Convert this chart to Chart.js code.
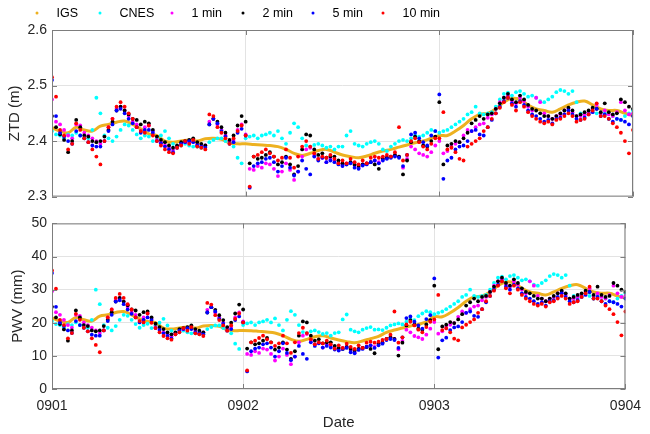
<!DOCTYPE html>
<html>
<head>
<script src="https://cdn.jsdelivr.net/npm/chart.js"></script>
<style>
  html, body { margin: 0; padding: 0; background: #fff; }
  #wrap { position: relative; width: 650px; height: 434px; }
  #ztdChart { position: absolute; left: 0; top: 0; }
  #pwvChart { position: absolute; left: 0; top: 210px; }
</style>
</head>
<body>
<div id="wrap">
  <canvas id="ztdChart" width="650" height="210"></canvas>
  <canvas id="pwvChart" width="650" height="224"></canvas>
</div>
<script>
// tick labels and series
const dateLabels = ['0901', '0902', '0903', '0904'];
const seriesNames = ['IGS', 'CNES', '1 min', '2 min', '5 min', '10 min'];
const seriesColors = ['#EDB120', '#00FFFF', '#FF00FF', '#000000', '#0000FF', '#FF0000'];

// IGS: one value per hour, 0901 00:00 -> 0904 00:00
const ztdIGS = [
  2.424, 2.418, 2.415, 2.425, 2.42, 2.418, 2.427, 2.43, 2.434, 2.436, 2.43, 2.422,
  2.413, 2.41, 2.40, 2.398, 2.40, 2.402, 2.40, 2.404, 2.405, 2.403, 2.397, 2.395,
  2.395, 2.394, 2.393, 2.392, 2.39, 2.385, 2.378, 2.374, 2.378, 2.383, 2.385, 2.38,
  2.375, 2.372, 2.37, 2.373, 2.378, 2.382, 2.385, 2.389, 2.393, 2.397, 2.40, 2.405,
  2.41, 2.41, 2.418, 2.428, 2.44, 2.448, 2.45, 2.458, 2.47, 2.477, 2.475, 2.465,
  2.458, 2.455, 2.452, 2.458, 2.465, 2.47, 2.472, 2.465, 2.458, 2.455, 2.455, 2.45,
  2.446
];
// all other series: one value per half hour
const ztdCNES = [
  2.418, 2.412, 2.41, 2.405, 2.412, 2.41, 2.415, 2.41, 2.405, 2.405, 2.42, 2.478,
  2.45, 2.41, 2.405, 2.40, 2.408, 2.42, 2.43, 2.428, 2.42, 2.412, 2.405, 2.41,
  2.408, 2.40, 2.405, 2.41, 2.418, 2.405, 2.395, 2.39, 2.392, 2.395, 2.392, 2.39,
  2.39, 2.388, 2.39, 2.398, 2.402, 2.405, 2.405, 2.40, 2.398, 2.39, 2.37, 2.36,
  2.405, 2.408, 2.41, 2.405, 2.41, 2.412, 2.415, 2.41, 2.418, 2.405, 2.395, 2.415,
  2.432, 2.425, 2.405, 2.392, 2.39, 2.393, 2.395, 2.392, 2.388, 2.39, 2.385, 2.39,
  2.39, 2.41, 2.418, 2.395, 2.392, 2.39, 2.395, 2.398, 2.40, 2.395, 2.385, 2.382,
  2.39, 2.395, 2.40, 2.402, 2.40, 2.405, 2.41, 2.408, 2.41, 2.415, 2.42, 2.418,
  2.415, 2.418, 2.42, 2.425, 2.43, 2.435, 2.44, 2.448, 2.452, 2.462, 2.45, 2.448,
  2.45, 2.452, 2.462, 2.475, 2.485, 2.487, 2.482, 2.488, 2.49, 2.485, 2.48, 2.482,
  2.478, 2.472, 2.47, 2.475, 2.48, 2.488, 2.492, 2.49, 2.485, 2.49, 2.47, 2.45,
  2.445, 2.45, 2.455, 2.45, 2.445, 2.45, 2.44, 2.445, 2.44, 2.438, 2.445, 2.45,
  2.455
];
const ztd1min = [
  2.475, 2.435, 2.43, 2.42, 2.41, 2.405, 2.43, 2.428, 2.415, 2.41, 2.405, 2.40,
  2.395, 2.40, 2.425, 2.44, 2.458, 2.462, 2.455, 2.445, 2.435, 2.43, 2.418, 2.425,
  2.428, 2.418, 2.402, 2.398, 2.392, 2.388, 2.384, 2.39, 2.394, 2.398, 2.398, 2.40,
  2.394, 2.39, 2.392, 2.435, 2.44, 2.43, 2.42, 2.41, 2.40, 2.402, 2.42, 2.43,
  2.412, 2.35, 2.348, 2.355, 2.352, 2.36, 2.358, 2.35, 2.337, 2.345, 2.36, 2.348,
  2.33, 2.345, 2.372, 2.385, 2.388, 2.375, 2.368, 2.37, 2.362, 2.368, 2.365, 2.36,
  2.356, 2.36, 2.362, 2.356, 2.352, 2.358, 2.36, 2.362, 2.365, 2.362, 2.368, 2.37,
  2.372, 2.375, 2.372, 2.352, 2.368, 2.39, 2.385, 2.378, 2.375, 2.372, 2.38, 2.392,
  2.40, 2.378, 2.382, 2.39, 2.395, 2.398, 2.41, 2.42, 2.418, 2.425, 2.43, 2.432,
  2.442, 2.448, 2.458, 2.47, 2.478, 2.482, 2.472, 2.468, 2.478, 2.472, 2.462, 2.455,
  2.478, 2.47, 2.45, 2.445, 2.44, 2.445, 2.448, 2.455, 2.458, 2.452, 2.445, 2.445,
  2.448, 2.452, 2.458, 2.465, 2.45, 2.455, 2.448, 2.445, 2.452, 2.47, 2.455, 2.448,
  2.45
];
const ztd2min = [
  2.445, 2.425, 2.412, 2.402, 2.38, 2.40, 2.438, 2.425, 2.41, 2.408, 2.40, 2.398,
  2.40, 2.408, 2.42, 2.435, 2.455, 2.462, 2.455, 2.448, 2.44, 2.438, 2.43, 2.435,
  2.432, 2.42, 2.408, 2.402, 2.398, 2.392, 2.388, 2.392, 2.398, 2.40, 2.402, 2.405,
  2.398, 2.395, 2.392, 2.43, 2.44, 2.435, 2.425, 2.415, 2.402, 2.41, 2.428, 2.445,
  2.435, 2.36, 2.372, 2.368, 2.37, 2.375, 2.38, 2.372, 2.358, 2.362, 2.372, 2.358,
  2.34, 2.355, 2.385, 2.412, 2.41, 2.385, 2.375, 2.378, 2.37, 2.372, 2.372, 2.365,
  2.36, 2.358, 2.362, 2.358, 2.355, 2.358, 2.36, 2.362, 2.358, 2.35, 2.368, 2.37,
  2.372, 2.375, 2.372, 2.34, 2.365, 2.398, 2.408, 2.40, 2.392, 2.39, 2.40, 2.408,
  2.47, 2.358, 2.392, 2.395, 2.40, 2.398, 2.405, 2.415, 2.432, 2.438, 2.445, 2.44,
  2.448, 2.45, 2.458, 2.468, 2.478, 2.485, 2.475, 2.47, 2.482, 2.475, 2.465, 2.458,
  2.455, 2.45, 2.445, 2.445, 2.44, 2.445, 2.45, 2.455, 2.46, 2.455, 2.445, 2.448,
  2.452, 2.455, 2.46, 2.458, 2.452, 2.468, 2.452, 2.448, 2.45, 2.475, 2.47, 2.462,
  2.458
];
const ztd5min = [
  2.51, 2.445, 2.415, 2.408, 2.40, 2.395, 2.418, 2.41, 2.405, 2.398, 2.392, 2.39,
  2.39, 2.40, 2.418, 2.43, 2.455, 2.458, 2.45, 2.44, 2.432, 2.425, 2.415, 2.42,
  2.42, 2.415, 2.40, 2.396, 2.39, 2.385, 2.38, 2.388, 2.395, 2.398, 2.40, 2.398,
  2.392, 2.39, 2.388, 2.43, 2.44, 2.432, 2.418, 2.408, 2.395, 2.398, 2.415, 2.422,
  2.41, 2.316, 2.355, 2.36, 2.362, 2.368, 2.37, 2.362, 2.345, 2.355, 2.37, 2.352,
  2.338, 2.345, 2.365, 2.35, 2.34, 2.372, 2.365, 2.37, 2.362, 2.365, 2.362, 2.358,
  2.355, 2.358, 2.36, 2.352, 2.35, 2.356, 2.358, 2.362, 2.365, 2.36, 2.365, 2.368,
  2.37, 2.372, 2.37, 2.355, 2.375, 2.412, 2.415, 2.405, 2.398, 2.392, 2.41, 2.418,
  2.484, 2.332, 2.365, 2.37, 2.385, 2.39, 2.392, 2.40, 2.418, 2.42, 2.412, 2.41,
  2.425, 2.438, 2.45, 2.462, 2.472, 2.478, 2.468, 2.462, 2.472, 2.465, 2.455, 2.448,
  2.445, 2.44, 2.435, 2.438, 2.432, 2.44, 2.442, 2.448, 2.455, 2.448, 2.44, 2.438,
  2.442, 2.448, 2.452, 2.458, 2.445, 2.448, 2.44, 2.435, 2.44, 2.438, 2.435, 2.43,
  2.445
];
const ztd10min = [
  2.515, 2.48, 2.42, 2.41, 2.385, 2.395, 2.432, 2.42, 2.405, 2.398, 2.385, 2.372,
  2.358, 2.40, 2.425, 2.44, 2.462, 2.47, 2.462, 2.45, 2.44, 2.425, 2.418, 2.415,
  2.428, 2.41, 2.40, 2.392, 2.385, 2.38, 2.378, 2.388, 2.392, 2.40, 2.395, 2.402,
  2.39, 2.388, 2.385, 2.448, 2.445, 2.425, 2.415, 2.405, 2.395, 2.405, 2.418, 2.428,
  2.41, 2.318, 2.372, 2.375, 2.38, 2.385, 2.378, 2.372, 2.365, 2.37, 2.385, 2.37,
  2.352, 2.372, 2.39, 2.40, 2.39, 2.378, 2.368, 2.372, 2.37, 2.375, 2.368, 2.36,
  2.365, 2.36, 2.368, 2.362, 2.358, 2.365, 2.36, 2.37, 2.372, 2.37, 2.372, 2.375,
  2.372, 2.38, 2.425, 2.365, 2.375, 2.40, 2.405, 2.398, 2.39, 2.385, 2.395, 2.405,
  2.405, 2.452, 2.385, 2.388, 2.38, 2.368, 2.365, 2.39, 2.395, 2.40, 2.405, 2.418,
  2.425, 2.44, 2.45, 2.46, 2.47, 2.478, 2.465, 2.455, 2.47, 2.462, 2.452, 2.445,
  2.44, 2.435, 2.432, 2.435, 2.43, 2.438, 2.44, 2.445, 2.45, 2.445, 2.435, 2.438,
  2.44, 2.448, 2.455, 2.468, 2.445, 2.445, 2.44, 2.432, 2.425, 2.415, 2.40, 2.378,
  2.42
];

const pwvIGS = [
  21.5, 20.5, 20.1, 21.6, 20.9, 20.5, 22.0, 22.4, 23.1, 23.4, 22.4, 21.2,
  20.4, 20.0, 18.4, 18.1, 18.4, 18.7, 18.4, 19.0, 19.2, 18.9, 17.9, 17.6,
  17.7, 17.6, 17.4, 17.2, 16.9, 16.1, 15.0, 14.4, 15.0, 15.8, 16.1, 15.4,
  14.8, 14.3, 14.0, 14.5, 15.2, 15.9, 17.1, 17.8, 18.4, 19.0, 19.5, 20.3,
  21.8, 21.8, 23.0, 24.6, 26.5, 27.8, 28.1, 29.3, 31.2, 32.3, 32.0, 30.4,
  29.3, 28.9, 28.4, 29.3, 30.4, 31.2, 31.5, 30.4, 29.3, 28.9, 28.9, 28.1,
  27.4
];
const pwvCNES = [
  20.5, 19.6, 19.3, 18.5, 19.6, 19.3, 20.1, 19.3, 18.5, 18.5, 20.9, 30.0,
  25.6, 19.3, 18.5, 17.7, 19.0, 20.9, 22.4, 22.1, 20.9, 19.6, 18.5, 19.3,
  19.7, 18.4, 19.2, 20.0, 21.2, 19.2, 17.6, 16.8, 17.1, 17.6, 17.1, 16.8,
  16.8, 16.5, 16.8, 18.1, 18.7, 19.2, 19.2, 18.4, 18.1, 16.8, 13.7, 12.1,
  19.3, 19.8, 20.1, 19.3, 20.1, 20.4, 20.9, 20.1, 21.3, 19.3, 17.7, 20.9,
  23.5, 22.4, 19.3, 17.2, 16.9, 17.4, 17.7, 17.2, 16.6, 16.9, 16.1, 16.9,
  17.1, 21.0, 22.5, 17.9, 17.4, 17.1, 17.9, 18.4, 18.7, 17.9, 18.0, 17.8,
  18.5, 19.2, 19.5, 19.8, 19.5, 20.3, 21.1, 20.8, 22.0, 22.8, 23.5, 23.2,
  22.6, 23.0, 23.4, 24.1, 24.9, 25.7, 26.5, 27.8, 28.4, 30.0, 28.1, 27.8,
  28.1, 28.4, 30.0, 32.0, 33.6, 33.9, 33.1, 34.1, 34.4, 33.6, 32.8, 33.1,
  32.5, 31.5, 31.2, 32.0, 32.8, 34.1, 34.7, 34.4, 33.6, 34.4, 31.2, 28.1,
  27.3, 28.1, 28.9, 28.1, 27.3, 28.1, 26.5, 27.3, 26.5, 26.2, 27.3, 28.1,
  28.9
];
const pwv1min = [
  29.5, 23.2, 22.4, 20.9, 19.3, 18.5, 22.4, 22.1, 20.1, 19.3, 18.5, 17.7,
  16.9, 17.7, 21.6, 24.0, 26.8, 27.5, 26.4, 24.8, 23.2, 22.4, 20.5, 21.6,
  22.8, 21.2, 18.7, 18.1, 17.1, 16.5, 15.9, 16.8, 17.5, 18.1, 18.1, 18.4,
  17.5, 16.8, 17.1, 23.9, 24.7, 23.1, 21.6, 20.0, 18.4, 18.7, 21.6, 23.1,
  20.4, 10.6, 10.3, 11.4, 10.9, 12.2, 11.9, 10.6, 8.6, 9.8, 12.2, 10.3,
  7.5, 9.8, 14.1, 16.1, 16.6, 14.6, 13.5, 13.8, 12.5, 13.5, 13.0, 12.2,
  11.8, 12.4, 12.7, 11.8, 11.1, 12.1, 12.4, 12.7, 13.2, 12.7, 13.7, 14.0,
  15.1, 15.6, 15.1, 12.0, 14.5, 17.9, 17.1, 16.0, 15.6, 15.1, 16.4, 18.2,
  20.2, 16.7, 17.4, 18.6, 19.4, 19.9, 21.8, 23.4, 23.0, 24.1, 24.9, 25.2,
  26.8, 27.8, 29.3, 31.2, 32.5, 33.1, 31.5, 30.9, 32.5, 31.5, 30.0, 28.9,
  32.5, 31.2, 28.1, 27.3, 26.5, 27.3, 27.8, 28.9, 29.3, 28.4, 27.3, 27.3,
  27.8, 28.4, 29.3, 30.4, 28.1, 28.9, 27.8, 27.3, 28.4, 31.2, 28.9, 27.8,
  28.1
];
const pwv2min = [
  24.8, 21.6, 19.6, 18.0, 14.6, 17.7, 23.7, 21.6, 19.3, 19.0, 17.7, 17.4,
  17.7, 19.0, 20.9, 23.2, 26.4, 27.5, 26.4, 25.3, 24.0, 23.7, 22.4, 23.2,
  23.4, 21.6, 19.7, 18.7, 18.1, 17.1, 16.5, 17.1, 18.1, 18.4, 18.7, 19.2,
  18.1, 17.6, 17.1, 23.1, 24.7, 23.9, 22.3, 20.8, 18.7, 20.0, 22.8, 25.5,
  24.0, 12.2, 14.1, 13.5, 13.8, 14.6, 15.4, 14.1, 11.9, 12.5, 14.1, 11.9,
  9.1, 11.4, 16.1, 20.4, 20.1, 16.1, 14.6, 15.0, 13.8, 14.1, 14.1, 13.0,
  12.4, 12.1, 12.7, 12.1, 11.6, 12.1, 12.4, 12.7, 12.1, 10.8, 13.7, 14.0,
  15.1, 15.6, 15.1, 10.1, 14.0, 19.2, 20.8, 19.5, 18.2, 17.9, 19.5, 20.8,
  31.2, 12.0, 18.9, 19.4, 20.2, 19.9, 21.0, 22.6, 25.2, 26.2, 27.3, 26.5,
  27.8, 28.1, 29.3, 30.9, 32.5, 33.6, 32.0, 31.2, 33.1, 32.0, 30.4, 29.3,
  28.9, 28.1, 27.3, 27.3, 26.5, 27.3, 28.1, 28.9, 29.7, 28.9, 27.3, 27.8,
  28.4, 28.9, 29.7, 29.3, 28.4, 30.9, 28.4, 27.8, 28.1, 32.0, 31.2, 30.0,
  29.3
];
const pwv5min = [
  35.0, 24.8, 20.1, 19.0, 17.7, 16.9, 20.5, 19.3, 18.5, 17.4, 16.4, 16.1,
  16.1, 17.7, 20.5, 22.4, 26.4, 26.8, 25.6, 24.0, 22.7, 21.6, 20.1, 20.9,
  21.6, 20.8, 18.4, 17.8, 16.8, 16.0, 15.3, 16.5, 17.6, 18.1, 18.4, 18.1,
  17.1, 16.8, 16.5, 23.1, 24.7, 23.4, 21.2, 19.7, 17.6, 18.1, 20.8, 21.9,
  20.1, 5.3, 11.4, 12.2, 12.5, 13.5, 13.8, 12.5, 9.8, 11.4, 13.8, 10.9,
  8.7, 9.8, 13.0, 10.6, 9.1, 14.1, 13.0, 13.8, 12.5, 13.0, 12.5, 11.9,
  11.6, 12.1, 12.4, 11.1, 10.8, 11.8, 12.1, 12.7, 13.2, 12.4, 13.2, 13.7,
  14.8, 15.1, 14.8, 12.4, 15.6, 21.4, 21.9, 20.3, 19.2, 18.2, 21.1, 22.3,
  33.4, 9.5, 14.7, 15.5, 17.8, 18.6, 18.9, 20.2, 23.0, 23.4, 22.1, 21.8,
  24.1, 26.2, 28.1, 30.0, 31.5, 32.5, 30.9, 30.0, 31.5, 30.4, 28.9, 27.8,
  27.3, 26.5, 25.7, 26.2, 25.2, 26.5, 26.8, 27.8, 28.9, 27.8, 26.5, 26.2,
  26.8, 27.8, 28.4, 29.3, 27.3, 27.8, 26.5, 25.7, 26.5, 26.2, 25.7, 24.9,
  27.3
];
const pwv10min = [
  35.8, 30.3, 20.9, 19.3, 15.3, 16.9, 22.7, 20.9, 18.5, 17.4, 15.3, 13.3,
  11.1, 17.7, 21.6, 24.0, 27.5, 28.7, 27.5, 25.6, 24.0, 21.6, 20.5, 20.1,
  22.8, 20.0, 18.4, 17.1, 16.0, 15.3, 14.9, 16.5, 17.1, 18.4, 17.6, 18.7,
  16.8, 16.5, 16.0, 26.0, 25.5, 22.3, 20.8, 19.2, 17.6, 19.2, 21.2, 22.8,
  20.1, 5.6, 14.1, 14.6, 15.4, 16.1, 15.0, 14.1, 13.0, 13.8, 16.1, 13.8,
  10.9, 14.1, 16.9, 18.5, 16.9, 15.0, 13.5, 14.1, 13.8, 14.6, 13.5, 12.2,
  13.2, 12.4, 13.7, 12.7, 12.1, 13.2, 12.4, 14.0, 14.3, 14.0, 14.3, 14.8,
  15.1, 16.4, 23.4, 14.0, 15.6, 19.5, 20.3, 19.2, 17.9, 17.1, 18.7, 20.3,
  21.0, 28.4, 17.8, 18.3, 17.1, 15.2, 14.7, 18.6, 19.4, 20.2, 21.0, 23.0,
  24.1, 26.5, 28.1, 29.7, 31.2, 32.5, 30.4, 28.9, 31.2, 30.0, 28.4, 27.3,
  26.5, 25.7, 25.2, 25.7, 24.9, 26.2, 26.5, 27.3, 28.1, 27.3, 25.7, 26.2,
  26.5, 27.8, 28.9, 30.9, 27.3, 27.3, 26.5, 25.2, 24.1, 22.6, 20.2, 16.2,
  23.4
];

const FONT = '"Liberation Sans", Arial, Helvetica, sans-serif';
const TEXT = '#262626';
const GRID = '#e3e3e3';
const FRAME = '#7d7d7d';

// hours since 0901 00:00 -> x
function toPoints(values, stepHours) {
  return values.map((v, i) => ({ x: i * stepHours, y: v }));
}

function buildDatasets(igs, cnes, m1, m2, m5, m10) {
  const all = [igs, cnes, m1, m2, m5, m10];
  return all.map((vals, i) => {
    const isIGS = i === 0;
    return {
      label: seriesNames[i],
      data: toPoints(vals, isIGS ? 1 : 0.5),
      showLine: isIGS,
      borderColor: seriesColors[i],
      backgroundColor: seriesColors[i],
      borderWidth: isIGS ? 3 : 0,
      tension: isIGS ? 0.4 : 0,
      pointRadius: isIGS ? 0 : 1.9,
      pointBorderWidth: 0,
      pointHoverRadius: 0,
      order: 5 - i   // 10 min on top, IGS at the back
    };
  });
}

// box round the axes with inward ticks, like matlab
const axesBox = {
  id: 'axesBox',
  afterDraw(chart) {
    const { ctx, chartArea: a, scales } = chart;
    const len = 5;
    ctx.save();
    ctx.strokeStyle = FRAME;
    ctx.lineWidth = 1;
    ctx.strokeRect(a.left + 0.5, a.top + 0.5, a.right - a.left - 1, a.bottom - a.top - 1);
    ctx.beginPath();
    scales.x.ticks.forEach(t => {
      const px = Math.round(scales.x.getPixelForValue(t.value)) + 0.5;
      ctx.moveTo(px, a.top); ctx.lineTo(px, a.top + len);
      ctx.moveTo(px, a.bottom); ctx.lineTo(px, a.bottom - len);
    });
    scales.y.ticks.forEach(t => {
      const py = Math.round(scales.y.getPixelForValue(t.value)) + 0.5;
      ctx.moveTo(a.left, py); ctx.lineTo(a.left + len, py);
      ctx.moveTo(a.right, py); ctx.lineTo(a.right - len, py);
    });
    ctx.stroke();
    ctx.restore();
  }
};

// horizontal legend above the top panel
const legendRow = {
  id: 'legendRow',
  afterDraw(chart) {
    const ctx = chart.ctx;
    const markX = [37, 100, 172, 243, 313, 383];
    ctx.save();
    ctx.font = '12.5px ' + FONT;
    ctx.textBaseline = 'middle';
    ctx.textAlign = 'left';
    seriesNames.forEach((name, i) => {
      ctx.fillStyle = seriesColors[i];
      ctx.beginPath();
      ctx.arc(markX[i], 13, 1.5, 0, Math.PI * 2);
      ctx.fill();
      ctx.fillStyle = '#000';
      ctx.fillText(name, markX[i] + 19.5, 13.5);
    });
    ctx.restore();
  }
};

function yScale(min, max, step, title, titlePad, fmt) {
  return {
    type: 'linear', min: min, max: max,
    ticks: { stepSize: step, padding: 5, color: TEXT, font: { family: FONT, size: 14 }, callback: fmt },
    grid: { color: GRID, drawTicks: false },
    border: { display: false },
    title: { display: true, text: title, color: TEXT, font: { family: FONT, size: 15 }, padding: { top: titlePad, bottom: 0 } },
    afterFit: s => { s.width = 52; }
  };
}

function xScale(showLabels) {
  return {
    type: 'linear', min: 0, max: 72,
    ticks: {
      display: showLabels, stepSize: 24, autoSkip: false, maxRotation: 0, padding: 9,
      color: TEXT, font: { family: FONT, size: 14 },
      callback: v => dateLabels[Math.round(v / 24)]
    },
    grid: { color: GRID, drawTicks: false },
    border: { display: false },
    title: { display: showLabels, text: 'Date', color: TEXT, font: { family: FONT, size: 15 }, padding: { top: 0, bottom: 2 } },
    afterFit: s => { s.height = showLabels ? 45 : 0; }
  };
}

const common = {
  responsive: false,
  animation: false,
  events: [],
  plugins: { legend: { display: false }, tooltip: { enabled: false } }
};

new Chart(document.getElementById('ztdChart'), {
  type: 'scatter',
  data: { datasets: buildDatasets(ztdIGS, ztdCNES, ztd1min, ztd2min, ztd5min, ztd10min) },
  options: Object.assign({}, common, {
    layout: { padding: { left: 0, right: 17, top: 30, bottom: 12 } },
    scales: {
      x: xScale(false),
      y: yScale(2.3, 2.6, 0.1, 'ZTD (m)', 5.5, v => Number(v).toFixed(1))
    }
  }),
  plugins: [axesBox, legendRow]
});

new Chart(document.getElementById('pwvChart'), {
  type: 'scatter',
  data: { datasets: buildDatasets(pwvIGS, pwvCNES, pwv1min, pwv2min, pwv5min, pwv10min) },
  options: Object.assign({}, common, {
    layout: { padding: { left: 0, right: 17, top: 11, bottom: 0 } },
    scales: {
      x: xScale(true),
      y: yScale(0, 50, 10, 'PWV (mm)', 9, v => String(v))
    }
  }),
  plugins: [axesBox]
});
</script>
</body>
</html>
